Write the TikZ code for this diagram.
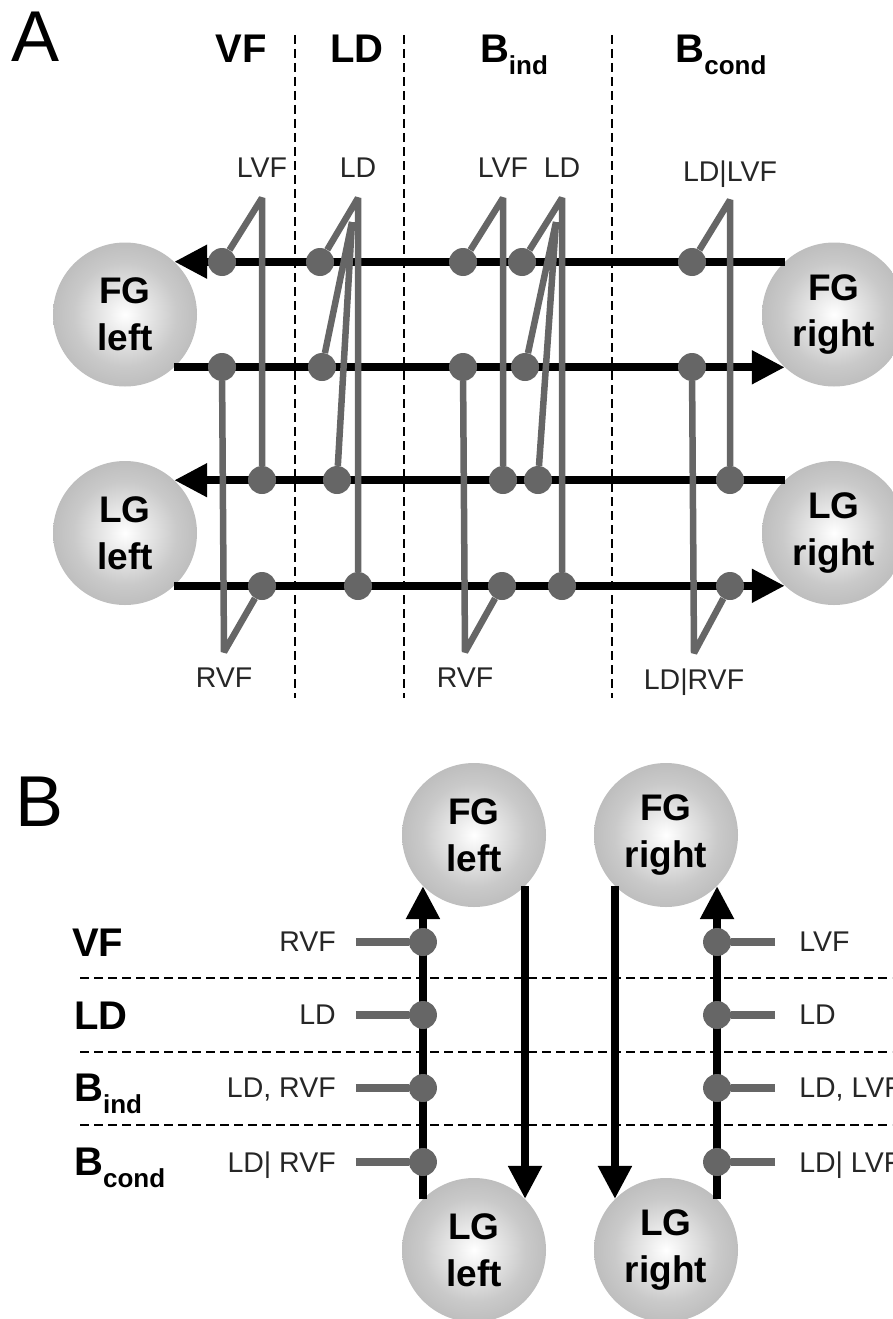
\documentclass[tikz,border=0pt]{standalone}
\usepackage{fontspec}
\setmainfont{Liberation Sans}
\usetikzlibrary{arrows.meta,positioning}

\definecolor{cuegrey}{gray}{0.40}
\pgfdeclareradialshading{greyball}{\pgfpoint{0bp}{0bp}}{%
  color(0bp)=(white); color(6bp)=(white!93!black);
  color(18bp)=(white!79!black); color(35bp)=(white!68!black);
  color(50bp)=(white!61!black)}

\newcommand\subtxt[1]{\raisebox{-12pt}{\fontsize{26}{26}\selectfont #1}}

\tikzset{
  ball/.style={circle, minimum size=144pt, inner sep=0pt, shade, shading=greyball,
    align=center, font=\fontsize{37}{47}\selectfont\bfseries},
  tract/.style={line width=8pt, -{Triangle[length=33pt,width=32pt]}},
  cue/.style={draw=cuegrey, line width=6.5pt, line join=bevel},
  stub/.style={draw=cuegrey, line width=8pt},
  dot/.style={circle, fill=cuegrey, minimum size=28pt, inner sep=0pt},
  lbl/.style={font=\fontsize{28.5}{30}\selectfont, text=black!85, inner sep=0pt, text depth=0pt},
  head/.style={font=\fontsize{40}{40}\selectfont\bfseries, inner sep=0pt, anchor=base},
  divider/.style={line width=1.3pt, dash pattern=on 9pt off 5pt},
  panel/.style={font=\fontsize{72}{72}\selectfont, anchor=base west, inner sep=0pt}
}

\begin{document}
\begin{tikzpicture}[x=1pt, y=-1pt]
\useasboundingbox (0,0) rectangle (892,1319);

%%% A: horizontal pathways
\node[panel] (labA) at (11,62) {A};
\node[head] (hVF) at (241,63) {VF};
\node[head] (hLD) at (357,63) {LD};
\node[head] (hind) at (514,63) {B\subtxt{ind}};
\node[head] (hcond) at (721,63) {B\subtxt{cond}};

\draw[divider] (295,35) -- (295,698);
\draw[divider] (404,35) -- (404,698);
\draw[divider] (612,35) -- (612,698);

\node[ball] (FGL) at (125,314.5) {FG\\left};
\node[ball] (FGR) at (834,314.5) {FG\\right};
\node[ball] (LGL) at (125,533) {LG\\left};
\node[ball] (LGR) at (834,533) {LG\\right};

\draw[tract] (FGR.133) -- (FGL.47);
\draw[tract] (FGL.-47) -- (FGR.-133);
\draw[tract] (LGR.133) -- (LGL.47);
\draw[tract] (LGL.-47) -- (LGR.-133);

% VF
\coordinate (vfT) at (262,198);
\coordinate (vfB) at (224,652);
\node[dot] (vf1) at (222,262) {};
\node[dot] (vf2) at (222,367) {};
\node[dot] (vf3) at (262,480) {};
\node[dot] (vf4) at (262,586) {};
\draw[cue] (vf1) -- (vfT) -- (vf3);
\draw[cue] (vf2) -- (vfB) -- (vf4);
\node[lbl, above=20pt of vfT] {LVF};
\node[lbl, below=16pt of vfB] {RVF};

% LD
\coordinate (ldT) at (358,198);
\coordinate (ldJ) at (352,222);
\node[dot] (ld1) at (320,262) {};
\node[dot] (ld2) at (322,367) {};
\node[dot] (ld3) at (337,480) {};
\node[dot] (ld4) at (358,586) {};
\draw[cue] (ld1) -- (ldT) -- (ld4);
\draw[cue] (ld2) -- (ldJ) (ld3) -- (ldJ);
\node[lbl, above=20pt of ldT] {LD};

% B ind
\coordinate (ivT) at (503,198);
\node[dot] (iv1) at (463,262) {};
\node[dot] (iv3) at (503,480) {};
\draw[cue] (iv1) -- (ivT) -- (iv3);
\node[lbl, above=20pt of ivT] {LVF};

\coordinate (idT) at (562,198);
\coordinate (idJ) at (556,222);
\node[dot] (id1) at (522,262) {};
\node[dot] (id2) at (525,367) {};
\node[dot] (id3) at (538,480) {};
\node[dot] (id4) at (562,586) {};
\draw[cue] (id1) -- (idT) -- (id4);
\draw[cue] (id2) -- (idJ) (id3) -- (idJ);
\node[lbl, above=20pt of idT] {LD};

\coordinate (irB) at (465,652);
\node[dot] (ir2) at (463,367) {};
\node[dot] (ir4) at (502,586) {};
\draw[cue] (ir2) -- (irB) -- (ir4);
\node[lbl, below=16pt of irB] {RVF};

% B cond
\coordinate (cvT) at (730,200);
\node[dot] (cv1) at (692,262) {};
\node[dot] (cv3) at (730,480) {};
\draw[cue] (cv1) -- (cvT) -- (cv3);
\node[lbl, above=18pt of cvT] {LD|LVF};

\coordinate (crB) at (694,653);
\node[dot] (cr2) at (692,367) {};
\node[dot] (cr4) at (730,586) {};
\draw[cue] (cr2) -- (crB) -- (cr4);
\node[lbl, below=16pt of crB] {LD|RVF};

%%% B: vertical pathways
\node[panel] (labB) at (15,826) {B};

\node[ball] (fgl) at (474,835) {FG\\left};
\node[ball] (fgr) at (666,835) {FG\\right};
\node[ball] (lgl) at (474,1250) {LG\\left};
\node[ball] (lgr) at (666,1250) {LG\\right};

\draw[divider] (80,978) -- (892,978);
\draw[divider] (80,1052) -- (892,1052);
\draw[divider] (80,1125) -- (892,1125);

\draw[tract] (lgl.135) -- (fgl.-135);
\draw[tract] (fgl.-45) -- (lgl.45);
\draw[tract] (fgr.-135) -- (lgr.135);
\draw[tract] (lgr.45) -- (fgr.-45);

\coordinate (yVF) at (0,942);
\coordinate (yLD) at (0,1015);
\coordinate (yind) at (0,1088);
\coordinate (ycond) at (0,1162);

\node[head, anchor=base west] at (72,956) {VF};
\node[head, anchor=base west] at (74,1029) {LD};
\node[head, anchor=base west] at (74,1101) {B\subtxt{ind}};
\node[head, anchor=base west] at (74,1175) {B\subtxt{cond}};

\coordinate (lx) at (fgl.-135);
\coordinate (rx) at (fgr.-45);
\foreach \r/\ltxt/\rtxt in {VF/RVF/LVF, LD/LD/LD, ind/{LD, RVF}/{LD, LVF}, cond/{LD| RVF}/{LD| LVF}}{
  \node[dot] (l\r) at (lx |- y\r) {};
  \node[dot] (r\r) at (rx |- y\r) {};
  \coordinate (le\r) at ([xshift=-67pt]l\r.center);
  \coordinate (re\r) at ([xshift=58pt]r\r.center);
  \draw[stub] (le\r) -- (l\r);
  \draw[stub] (re\r) -- (r\r);
  \node[lbl, left=20pt of le\r] {\ltxt};
  \node[lbl, right=24pt of re\r] {\rtxt};
}
\end{tikzpicture}
\end{document}
